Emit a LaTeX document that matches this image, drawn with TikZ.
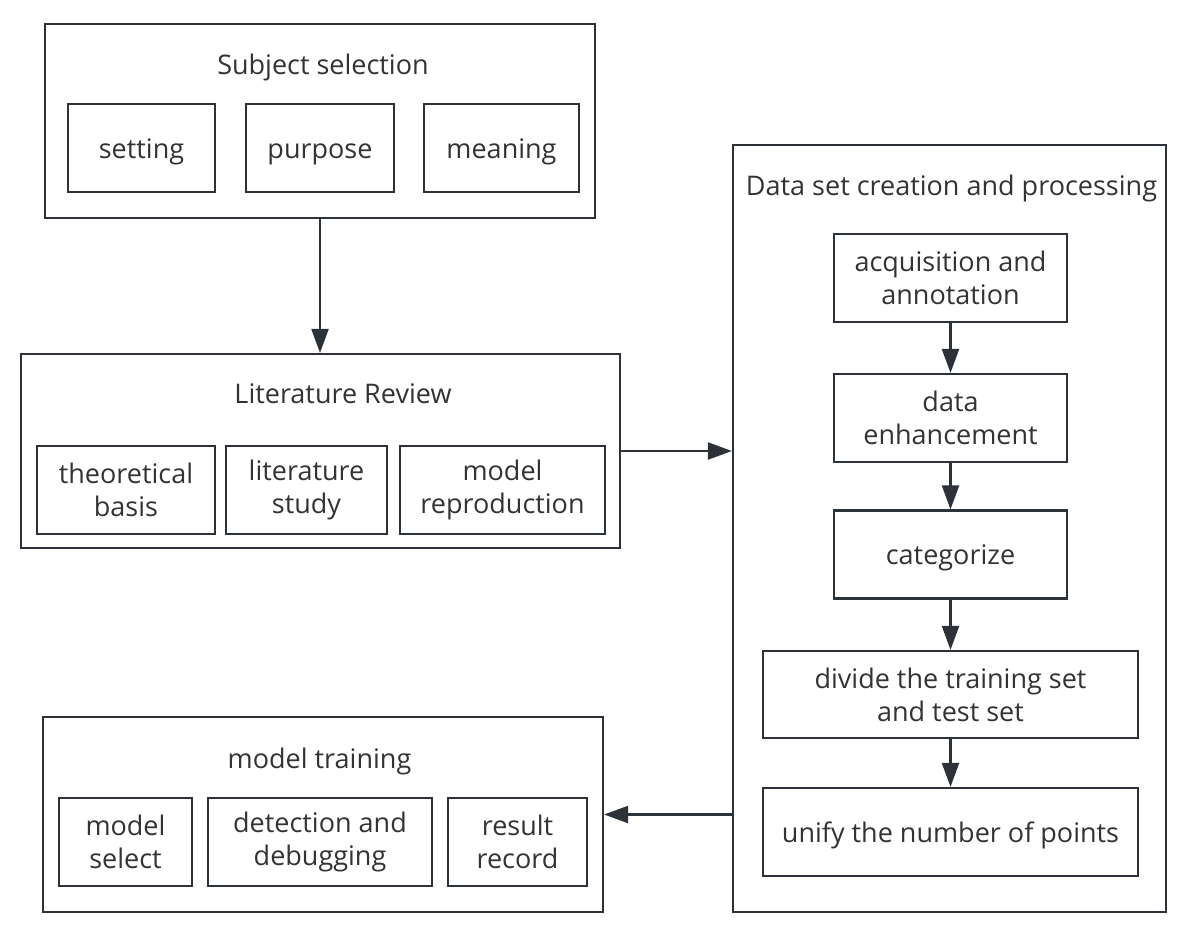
\documentclass[tikz,border=0pt]{standalone}
\usepackage{fontspec}
\setmainfont{Open Sans}
\usetikzlibrary{arrows.meta}

\definecolor{rand}{RGB}{45,50,56}
\definecolor{schrift}{RGB}{51,51,51}

\tikzset{
  box/.style={draw=rand, line width=2.2pt, inner sep=0pt, align=center,
    text=schrift, font=\fontsize{27pt}{33pt}\selectfont},
  einzeilig/.style={text height=20pt, text depth=0pt},
  groupbox/.style={draw=rand, line width=2.2pt, inner sep=0pt},
  titel/.style={anchor=base, text=schrift, font=\fontsize{27pt}{33pt}\selectfont},
  arr/.style={draw=rand, line width=2.2pt, -{Triangle[length=24pt,width=17pt]}}
}

\begin{document}
\begin{tikzpicture}[x=1pt, y=-1pt]
  \useasboundingbox (0,0) rectangle (1193,945);

  % Subject selection
  \node[groupbox, minimum width=550, minimum height=194] (subj) at (320,121) {};
  \node[titel] (subjT) at (323,74) {Subject selection};
  \foreach \name/\x/\w/\txt in {set/141.5/147/setting, pur/320/148/purpose, mea/501.5/155/meaning}
    \node[box, einzeilig, minimum width=\w, minimum height=88] (\name) at (\x,148) {\txt};

  % Literature Review
  \node[groupbox, minimum width=599, minimum height=194] (lit) at (320.5,451) {};
  \node[titel] (litT) at (343,403) {Literature Review};
  \foreach \name/\x/\w/\txt in {theo/126/178/{theoretical\\basis},
      stud/306.5/161/{literature\\study}, repr/502.5/205/{model\\reproduction}}
    \node[box, minimum width=\w, minimum height=88] (\name) at (\x,490) {\txt};

  % Data set creation and processing
  \node[groupbox, minimum width=433, minimum height=767] (data) at (949.5,528.5) {};
  \node[titel] (dataT) at (951.5,195) {Data set creation and processing};
  \foreach \name/\y/\txt in {acq/278/{acquisition and\\annotation},
      enh/418/{data\\enhancement}}
    \node[box, minimum width=233, minimum height=88] (\name) at (950.5,\y) {\txt};
  \node[box, einzeilig, minimum width=233, minimum height=88] (cat) at (950.5,554.5) {categorize};
  \node[box, minimum width=375, minimum height=87] (div) at (950.5,694.5) {divide the training set\\and test set};
  \node[box, einzeilig, minimum width=375, minimum height=88] (uni) at (950.5,832) {unify the number of points};

  % model training
  \node[groupbox, minimum width=560, minimum height=195] (mt) at (323,814.5) {};
  \node[titel] (mtT) at (319.5,768) {model training};
  \foreach \name/\x/\w/\txt in {msel/125.5/133/{model\\select},
      det/320/224/{detection and\\debugging}, res/517.5/139/{result\\record}}
    \node[box, minimum width=\w, minimum height=88] (\name) at (\x,842) {\txt};

  % Pfeile
  \draw[arr] (subj.south) -- (subj.south |- lit.north);
  \draw[arr] (lit.east) -- (lit.east -| data.west);
  \draw[arr] (acq) -- (enh);
  \draw[arr] (enh) -- (cat);
  \draw[arr] (cat) -- (div);
  \draw[arr] (div) -- (uni);
  \draw[arr] (mt.east -| data.west) -- (mt.east);

\end{tikzpicture}
\end{document}
